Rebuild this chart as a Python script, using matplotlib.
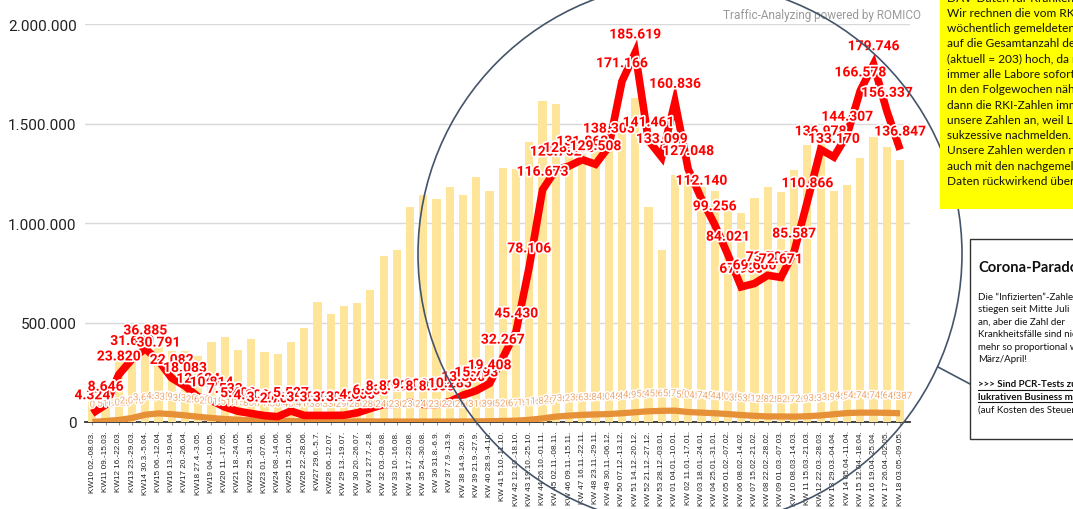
import matplotlib
matplotlib.use("Agg")
import matplotlib.pyplot as plt
import matplotlib.patheffects as pe
from matplotlib.patches import Ellipse, Rectangle
from matplotlib.lines import Line2D
from matplotlib.ticker import MultipleLocator, FuncFormatter
import numpy as np

weeks = [
    "KW10 02.-08.03.", "KW11 09.-15.03.", "KW12 16.-22.03.", "KW13 23.-29.03.",
    "KW14 30.3.-5.04.", "KW15 06.-12.04.", "KW16 13.-19.04.", "KW17 20.-26.04.",
    "KW18 27.4.-3.05.", "KW19 04.-10.05.", "KW20 11.-17.05.", "KW21 18.-24.05.",
    "KW22 25.-31.05.", "KW23 01.-07.06.", "KW24 08.-14.06.", "KW25 15.-21.06.",
    "KW26 22.-28.06.", "KW27 29.6.-5.7.", "KW28 06.-12.07.", "KW 29 13.-19.07.",
    "KW 30 20.-26.07.", "KW 31 27.7.-2.8.", "KW 32 03.-09.08.", "KW 33 10.-16.08.",
    "KW 34 17.-23.08.", "KW 35 24.-30.08.", "KW 36 31.8.-6.9.", "KW 37 7.9.-13.9.",
    "KW 38 14.9.-20.9.", "KW 39 21.9.-27.9.", "KW 40 28.9.-4.10.", "KW 41 5.10.-11.10.",
    "KW 42 12.10.-18.10.", "KW 43 19.10.-25.10.", "KW 44 26.10.-01.11.", "KW 45 02.11.-08.11.",
    "KW 46 09.11.-15.11.", "KW 47 16.11.-22.11.", "KW 48 23.11.-29.11.", "KW 49 30.11.-06.12.",
    "KW 50 07.12.-13.12.", "KW 51 14.12.-20.12.", "KW 52 21.12.-27.12.", "KW 53 28.12.-03.01.",
    "KW 01 04.01.-10.01.", "KW 02 11.01.-17.01.", "KW 03 18.01.-24.01.", "KW 04 25.01.-31.01.",
    "KW 05 01.02.-07.02.", "KW 06 08.02.-14.02.", "KW 07 15.02.-21.02.", "KW 08 22.02.-28.02.",
    "KW 09 01.03.-07.03.", "KW 10 08.03.-14.03.", "KW 11 15.03.-21.03.", "KW 12 22.03.-28.03.",
    "KW 13 29.03.-04.04.", "KW 14 05.04.-11.04.", "KW 15 12.04.-18.04.", "KW 16 19.04.-25.04.",
    "KW 17 26.04.-02.05.", "KW 18 03.05.-09.05.",
]

tests = [
    100000, 125000, 315000, 350000, 365000, 375000, 355000, 355000,
    330000, 400000, 425000, 360000, 415000, 350000, 340000, 400000,
    470000, 605000, 545000, 585000, 600000, 665000, 835000, 865000,
    1080000, 1140000, 1120000, 1180000, 1140000, 1230000, 1160000, 1275000,
    1270000, 1405000, 1615000, 1600000, 1430000, 1380000, 1400000, 1465000,
    1515000, 1630000, 1080000, 865000, 1240000, 1210000, 1180000, 1160000,
    1080000, 1050000, 1125000, 1180000, 1157000, 1265000, 1390000, 1400000,
    1160000, 1190000, 1325000, 1430000, 1380000, 1315000,
]

positives = [
    4324, 8646, 23820, 31600, 36885, 30791, 22082, 18083,
    12624, 10814, 7533, 5400, 4300, 3200, 2700, 5527,
    3300, 3300, 3300, 3400, 4600, 6800, 8800, 8900,
    9800, 8800, 8800, 10285, 13500, 15793, 19408, 32267,
    45430, 78106, 116673, 126752, 128600, 131862, 129508, 138305,
    171166, 185619, 141461, 133099, 160836, 127048, 112140, 99256,
    84021, 67900, 69600, 73700, 72671, 85587, 110866, 136978,
    133170, 144307, 166578, 179746, 156337, 136847,
]

icu = [
    0, 515, 1020, 2010, 3640, 4330, 3930, 3320,
    2620, 2010, 1510, 1150, 860, 710, 560, 460,
    410, 380, 330, 290, 280, 280, 240, 230,
    230, 240, 230, 220, 260, 310, 390, 520,
    670, 1100, 1800, 2700, 3200, 3600, 3800, 4000,
    4400, 4900, 5400, 5600, 5700, 5000, 4700, 4400,
    4000, 3500, 3100, 2800, 2800, 2700, 2900, 3300,
    3900, 4500, 4700, 4700, 4600, 4387,
]

yellow_note = [
    "DAV-Daten für Krankenhäuser",
    "Wir rechnen die vom RKI",
    "wöchentlich gemeldeten Zahlen",
    "auf die Gesamtanzahl der Labore",
    "(aktuell = 203) hoch, da nicht",
    "immer alle Labore sofort melden.",
    "In den Folgewochen nähern sich",
    "dann die RKI-Zahlen immer mehr",
    "unsere Zahlen an, weil Labore",
    "sukzessive nachmelden.",
    "Unsere Zahlen werden natürlich",
    "auch mit den nachgemeldeten",
    "Daten rückwirkend überarbeitet.",
]

paradox_title = "Corona-Paradox"
paradox_body = [
    "Die “Infizierten”-Zahlen",
    "stiegen seit Mitte Juli",
    "an, aber die Zahl der",
    "Krankheitsfälle sind nicht",
    "mehr so proportional wie im",
    "März/April!",
]
paradox_bold = [
    ">>> Sind PCR-Tests zu einem",
    "lukrativen Business mutiert?",
]
paradox_last = "(auf Kosten des Steuerzahlers)"

W, H = 1073, 510
fig = plt.figure(figsize=(W / 100, H / 100), dpi=100)
fig.patch.set_facecolor("white")


def fx(px):
    return px / W


def fy(py):
    return 1 - py / H


ax = fig.add_axes([fx(85), fy(423), fx(910) - fx(85), fy(25) - fy(423)])
x = np.arange(len(weeks))
ax.bar(x, tests, width=0.62, color="#FFE599", zorder=2)
ax.set_ylim(0, 2_000_000)
ax.set_xlim(-0.55, len(weeks) - 0.25)
ax.yaxis.set_major_locator(MultipleLocator(500000))
ax.yaxis.set_major_formatter(FuncFormatter(lambda v, p: f"{int(v):,}".replace(",", ".")))
ax.grid(axis="y", color="#d9d9d9", lw=1, zorder=0)
ax.set_axisbelow(True)
for s in ["top", "right", "left"]:
    ax.spines[s].set_visible(False)
ax.spines["bottom"].set_color("#333333")
ax.spines["bottom"].set_linewidth(1.3)
ax.spines["bottom"].set_zorder(1)
ax.tick_params(axis="y", length=0, pad=6, labelsize=11, labelcolor="#222222")
for t in ax.get_yticklabels():
    t.set_fontfamily("Roboto")
ax.set_xticks(x)
ax.set_xticklabels(weeks, rotation=90, fontsize=5.9, color="#222222", fontfamily="Liberation Sans")
ax.tick_params(axis="x", length=2, color="#999999", pad=4)

ax2 = ax.twinx()
ax2.set_ylim(0, 200_000)
ax2.set_axis_off()
ax2.plot(x, icu, color="#E69138", lw=4.5, solid_capstyle="butt", zorder=3)
ax2.plot(x, positives, color="#FF0000", lw=5.5, solid_joinstyle="miter", solid_capstyle="butt", zorder=4)

fmt = lambda v: f"{int(v):,}".replace(",", ".")
for xi, v in zip(x, icu):
    ax2.annotate(fmt(v), (xi, v), xytext=(0, 9), textcoords="offset points",
                 ha="center", va="bottom", fontsize=7, color="#EFA870",
                 fontfamily="Roboto", zorder=5,
                 path_effects=[pe.withStroke(linewidth=2, foreground="white")])
for xi, v in zip(x, positives):
    ax2.annotate(fmt(v), (xi, v), xytext=(0, 8), textcoords="offset points",
                 ha="center", va="bottom", fontsize=10, color="#FF0000",
                 fontweight="bold", fontfamily="Roboto", zorder=6,
                 path_effects=[pe.withStroke(linewidth=2.5, foreground="white")])

fig.text(fx(723), fy(16), "Traffic-Analyzing powered by ROMICO", fontsize=8.5,
         color="#9a9a9a", fontfamily="Roboto", va="center", ha="left")

# circle highlight
circ = Ellipse((fx(690), fy(255)), 2 * 272 / W, 2 * 272 / H, transform=fig.transFigure,
               fill=False, edgecolor="#44546A", lw=1.2, zorder=20)
fig.add_artist(circ)
fig.add_artist(Line2D([fx(938), fx(970)], [fy(368), fy(385)], transform=fig.transFigure,
                      color="#44546A", lw=1.2, zorder=20))

# yellow note
fig.add_artist(Rectangle((fx(940), fy(210)), fx(140), 210 / H, transform=fig.transFigure,
                         facecolor="#FFFF00", edgecolor="none", zorder=30))
for i, line in enumerate(yellow_note):
    fig.text(fx(947), fy(-2 + 15.3 * i), line, fontsize=8.6, fontfamily="Lato",
             color="#111111", va="center", ha="left", zorder=31)

# white box
fig.add_artist(Rectangle((fx(970), fy(440)), fx(120), 200 / H, transform=fig.transFigure,
                         facecolor="white", edgecolor="#333333", lw=1, zorder=30))
fig.text(fx(978), fy(268), paradox_title, fontsize=10.6, fontweight="bold",
         fontfamily="Lato", color="#111111", va="center", zorder=31)
for i, line in enumerate(paradox_body):
    fig.text(fx(978), fy(297 + 12.5 * i), line, fontsize=7.0, fontfamily="Lato",
             color="#111111", va="center", zorder=31)
for i, line in enumerate(paradox_bold):
    yy = 385 + 12.5 * i
    fig.text(fx(978), fy(yy), line, fontsize=7.0, fontweight="bold", fontfamily="Lato",
             color="#111111", va="center", zorder=31)
    fig.add_artist(Line2D([fx(978), fx(1080)], [fy(yy + 5.5), fy(yy + 5.5)],
                          transform=fig.transFigure, color="#111111", lw=0.8, zorder=31))
fig.text(fx(978), fy(410), paradox_last, fontsize=7.0, fontfamily="Lato",
         color="#111111", va="center", zorder=31)

fig.savefig("out.png", dpi=100)
